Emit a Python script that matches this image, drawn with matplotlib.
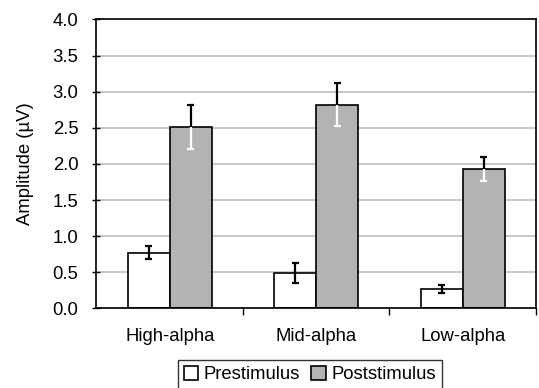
import matplotlib
matplotlib.use("Agg")
import matplotlib.pyplot as plt
import numpy as np

categories = ["High-alpha", "Mid-alpha", "Low-alpha"]
pre_values = [0.77, 0.49, 0.27]
pre_err = [0.09, 0.14, 0.05]
post_values = [2.51, 2.82, 1.93]
post_err = [0.31, 0.30, 0.16]
series_labels = ["Prestimulus", "Poststimulus"]
yticks = [0.0, 0.5, 1.0, 1.5, 2.0, 2.5, 3.0, 3.5, 4.0]

plt.rcParams['font.family'] = ['Liberation Sans', 'DejaVu Sans']
plt.rcParams['font.size'] = 13.3

fig = plt.figure(figsize=(5.39, 3.88), dpi=100)
ax = fig.add_axes([0.179, 0.205, 0.8154, 0.745])

x = np.arange(len(categories))
w = 0.287
ax.set_axisbelow(True)
ax.yaxis.grid(True, color='#c4c4c4', linewidth=1.3)
bp = ax.bar(x - w/2, pre_values, width=w, color='white', edgecolor='black', linewidth=1.2, label=series_labels[0], zorder=2)
bq = ax.bar(x + w/2, post_values, width=w, color='#b3b3b3', edgecolor='black', linewidth=1.2, label=series_labels[1], zorder=2)

cap = 0.025
xp = x - w/2
xq = x + w/2
pv = np.array(pre_values); pe = np.array(pre_err)
qv = np.array(post_values); qe = np.array(post_err)
# prestimulus: black both ways
ax.vlines(xp, pv - pe, pv + pe, color='black', linewidth=1.6, zorder=3)
ax.hlines(pv + pe, xp - cap, xp + cap, color='black', linewidth=1.6, zorder=3)
ax.hlines(pv - pe, xp - cap, xp + cap, color='black', linewidth=1.6, zorder=3)
# poststimulus: black upper, white lower
ax.vlines(xq, qv, qv + qe, color='black', linewidth=1.6, zorder=3)
ax.hlines(qv + qe, xq - cap, xq + cap, color='black', linewidth=1.6, zorder=3)
ax.vlines(xq, qv - qe, qv, color='white', linewidth=1.6, zorder=3)
ax.hlines(qv - qe, xq - cap, xq + cap, color='white', linewidth=1.6, zorder=3)

ax.set_xlim(-0.5, len(categories) - 0.5)
ax.set_ylim(0, 4.0)
ax.set_yticks(yticks)
ax.set_yticklabels([f"{t:.1f}" for t in yticks])
ax.set_xticks(x)
ax.set_xticklabels(categories)
ax.set_xticks(np.arange(len(categories)) + 0.5, minor=True)
ax.tick_params(axis='x', which='major', length=0, pad=14)
ax.tick_params(axis='x', which='minor', length=5, width=1, direction='out')
ax.tick_params(axis='y', length=6, width=1, direction='inout', pad=10)
for s in ax.spines.values():
    s.set_linewidth(1.2)
    s.set_color('black')
ax.set_ylabel("Amplitude (µV)", labelpad=13)

leg = fig.legend(handles=[bp, bq], labels=series_labels, loc='upper center',
                 bbox_to_anchor=(0.575, 1 - 360/388), ncol=2, frameon=True, fancybox=False,
                 edgecolor='black', handlelength=0.8, handleheight=0.8, handletextpad=0.3,
                 columnspacing=0.6, borderpad=0.3, borderaxespad=0, fontsize=13.3)
leg.get_frame().set_linewidth(1.0)

fig.savefig("out.png", dpi=100)
